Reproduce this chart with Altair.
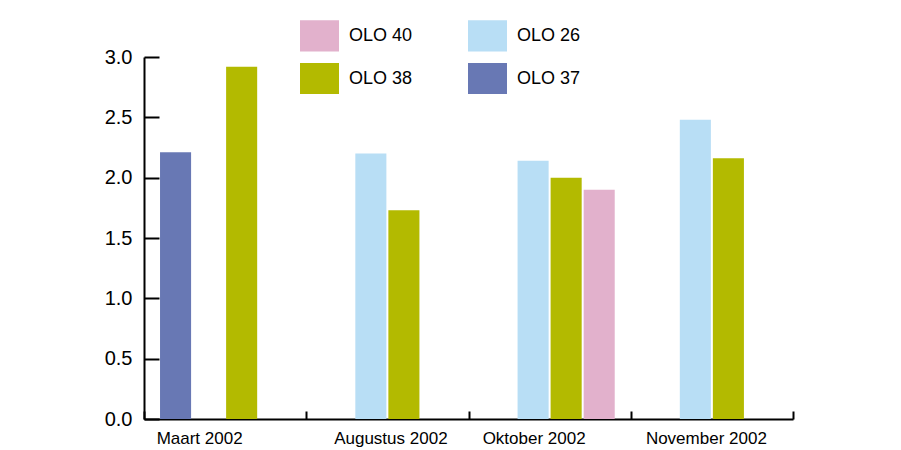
import altair as alt
import pandas as pd

months = ["Maart 2002", "Augustus 2002", "Oktober 2002", "November 2002"]

bar_month = ["Maart 2002", "Maart 2002",
             "Augustus 2002", "Augustus 2002",
             "Oktober 2002", "Oktober 2002", "Oktober 2002",
             "November 2002", "November 2002"]
bar_series = ["OLO 37", "OLO 38",
              "OLO 26", "OLO 38",
              "OLO 26", "OLO 38", "OLO 40",
              "OLO 26", "OLO 38"]
bar_value = [2.21, 2.92,
             2.20, 1.73,
             2.14, 2.00, 1.90,
             2.48, 2.16]

legend_order = ["OLO 40", "OLO 26", "OLO 38", "OLO 37"]
legend_colors = ["#E2B1CC", "#B8DEF5", "#B3BA00", "#6878B4"]
slot_order = ["OLO 37", "OLO 26", "OLO 38", "OLO 40"]
y_ticks = [0, 0.5, 1.0, 1.5, 2.0, 2.5, 3.0]

df = pd.DataFrame({"month": bar_month, "series": bar_series, "value": bar_value})

FONT = "Liberation Sans"

chart = alt.Chart(df).mark_bar().encode(
    x=alt.X("month:N", sort=months, title=None,
            scale=alt.Scale(paddingInner=0, paddingOuter=0),
            axis=alt.Axis(
                tickBand="extent",
                tickSize=alt.ExprRef("-8"),
                tickWidth=2, tickColor="black",
                domainColor="black", domainWidth=2,
                labelAngle=0, labelFont=FONT, labelFontSize=17,
                labelColor="black", labelPadding=19,
                labelOffset={"condition": [
                    {"test": "datum.value === 'Maart 2002'", "value": -26},
                    {"test": "datum.value === 'Oktober 2002'", "value": -16},
                    {"test": "datum.value === 'November 2002'", "value": -6}],
                    "value": 3},
            )),
    xOffset=alt.XOffset("series:N",
                        scale=alt.Scale(domain=slot_order, paddingInner=0.06, paddingOuter=0.485)),
    y=alt.Y("value:Q", title=None,
            scale=alt.Scale(domain=[0, 3], nice=False),
            axis=alt.Axis(
                values=y_ticks, format=".1f", grid=False,
                tickSize=alt.ExprRef("-15"),
                tickWidth=2, tickColor="black",
                domainColor="black", domainWidth=2,
                labelFont=FONT, labelFontSize=20, labelColor="black",
                labelPadding=27,
            )),
    color=alt.Color("series:N", title=None,
                    scale=alt.Scale(domain=legend_order, range=legend_colors),
                    legend=alt.Legend(
                        orient="none", legendX=156, legendY=-41,
                        direction="horizontal", columns=2,
                        symbolType="M-1,-0.8H1V0.8H-1Z", symbolSize=1521,
                        symbolStrokeWidth=0, symbolOpacity=1,
                        labelFont=FONT, labelFontSize=18, labelColor="black",
                        labelOffset=10, columnPadding=55, rowPadding=7,
                        padding=0,
                    )),
).properties(
    width=649, height=362,
    autosize=alt.AutoSizeParams(type="none"),
    padding={"left": 136, "top": 49, "right": 100, "bottom": 32},
    background="white",
).configure_view(stroke=None)

chart.save("out.html", embed_options={"renderer": "svg", "actions": False})
